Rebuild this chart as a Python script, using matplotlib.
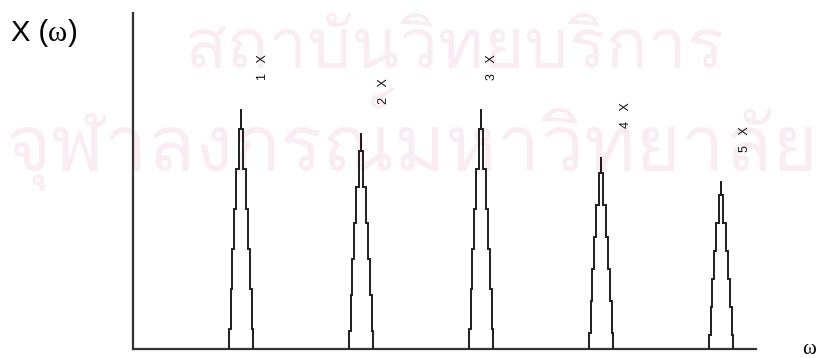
import matplotlib
matplotlib.use("Agg")
import matplotlib.pyplot as plt
from matplotlib import font_manager
from matplotlib.ft2font import FT2Font
from matplotlib.offsetbox import TextArea, HPacker, AnchoredOffsetbox

# Harmonic order (multiples of running speed) and relative peak amplitude
harmonics = [1, 2, 3, 4, 5]
amplitudes = [1.0, 0.9, 1.0, 0.8, 0.7]
labels = ["1   X", "2   X", "3   X", "4   X", "5   X"]

# Stepped outline of each spectral line: level (fraction of peak height)
# at which the outline steps inward, and the half-width below that level
step_levels = [1 / 12, 3 / 12, 5 / 12, 7 / 12, 9 / 12, 11 / 12, 1.0]
step_halfwidths = [0.100, 0.0875, 0.075, 0.058, 0.042, 0.017, 0.0]

# Horizontal offset of each harmonic label from its line
label_dx = [0.18, 0.19, 0.09, 0.21, 0.20]

watermark = ["สถาบันวิทยบริการ", "จุฬาลงกรณ์มหาวิทยาลัย"]


def thai_font():
    for f in font_manager.fontManager.ttflist:
        try:
            if 0x0E2A in FT2Font(f.fname).get_charmap():
                return f.name
        except Exception:
            pass
    return None


def stepped_outline(center, height):
    xl, yl, xr, yr = [], [], [], []
    lo = 0.0
    for lvl, hw in zip(step_levels, step_halfwidths):
        xl += [center - hw, center - hw]
        xr += [center + hw, center + hw]
        yl += [lo * height, lvl * height]
        yr += [lo * height, lvl * height]
        lo = lvl
    return xl + xr[::-1], yl + yr[::-1]


fig = plt.figure(figsize=(8.24, 3.58), dpi=100)

ax = fig.add_axes([133 / 824, 9 / 358, 623 / 824, 336 / 358])
ax.patch.set_alpha(0)
ax.set_xlim(0.1, 5.29)
ax.set_ylim(0, 1.4)

tfont = thai_font()
if tfont:
    ax.text(455 / 824, 1 - 50 / 358, watermark[0], family=tfont, fontsize=50,
            color="#f9edf3", ha="center", va="center", zorder=0,
            transform=fig.transFigure, clip_on=False)
    ax.text(412 / 824, 1 - 140 / 358, watermark[1], family=tfont, fontsize=56,
            color="#f9edf3", ha="center", va="center", zorder=0,
            transform=fig.transFigure, clip_on=False)

for h, a, lab, dx in zip(harmonics, amplitudes, labels, label_dx):
    x, y = stepped_outline(h, a)
    ax.plot(x, y, color="#1e1e1e", lw=1.4, solid_joinstyle="miter", zorder=3)
    ax.text(h + dx, a + 0.12, lab, rotation=90, ha="center", va="bottom",
            fontsize=9, family="Liberation Sans", color="#111111", zorder=4)

for side in ("top", "right"):
    ax.spines[side].set_visible(False)
for side in ("left", "bottom"):
    ax.spines[side].set_color("#333333")
    ax.spines[side].set_linewidth(1.6)
ax.set_xticks([])
ax.set_yticks([])

# Axis titles: amplitude X(ω) at top left, frequency ω at bottom right
parts = [TextArea("X (", textprops=dict(family="Liberation Sans", fontsize=21)),
         TextArea("ω", textprops=dict(family="Liberation Serif", fontsize=21)),
         TextArea(")", textprops=dict(family="Liberation Sans", fontsize=21))]
box = HPacker(children=parts, pad=0, sep=0, align="baseline")
anch = AnchoredOffsetbox(loc="upper left", child=box, frameon=False,
                         bbox_to_anchor=(11 / 824, 1 - 19 / 358),
                         bbox_transform=fig.transFigure, pad=0, borderpad=0)
fig.add_artist(anch)
fig.text(809 / 824, 1 - 349 / 358, "ω", family="Liberation Serif",
         fontsize=15, ha="center", va="center")

fig.savefig("out.png", dpi=100)
